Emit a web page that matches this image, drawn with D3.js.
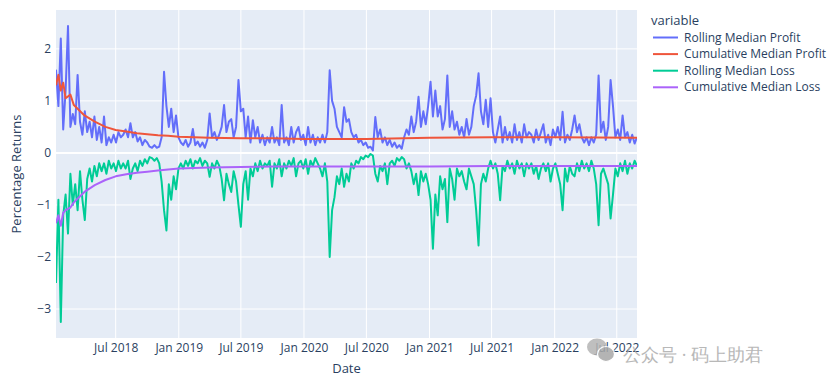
<!DOCTYPE html>
<html>
<head>
<meta charset="utf-8">
<script src="https://cdn.jsdelivr.net/npm/d3@7"></script>
<style>
  body { margin: 0; background: #fff; }
  text { font-family: "Open Sans", verdana, arial, sans-serif; }
</style>
</head>
<body>
<div id="display"></div>
<script>
// weekly samples of the rolling medians, starting 2018-01-08
const rollingStart = "2018-01-08";
const rollingStep = 7;

const rollingProfit = [
  1.6, 0.9, 2.2, 0.45, 1.2, 2.44, 0.5, 0.75, 0.55, 1.5,
  0.6, 0.35, 0.8, 0.4, 0.6, 0.3, 0.7, 0.25, 0.5, 0.2,
  0.7, 0.15, 0.3, 0.2, 0.35, 0.2, 0.4, 0.3, 0.35, 0.45,
  0.3, 0.57, 0.3, 0.4, 0.22, 0.3, 0.15, 0.25, 0.2, 0.12,
  0.1, 0.15, 0.1, 0.12, 0.3, 1.56, 0.9, 0.5, 0.85, 0.4,
  0.72, 0.3, 0.2, 0.15, 0.25, 0.12, 0.2, 0.46, 0.15, 0.22,
  0.12, 0.2, 0.1, 0.25, 0.76, 0.3, 0.4, 0.25, 0.35, 0.5,
  0.92, 0.4, 0.6, 0.65, 0.3, 0.5, 1.4, 0.8, 0.85, 0.3,
  0.7, 0.2, 0.63, 0.3, 0.5, 0.2, 0.35, 0.15, 0.3, 0.2,
  0.5, 0.2, 0.3, 0.15, 0.92, 0.2, 0.3, 0.15, 0.5, 0.2,
  0.4, 0.5, 0.25, 0.35, 0.15, 0.5, 0.2, 0.35, 0.15, 0.3,
  0.2, 0.35, 0.2, 0.4, 1.59, 1.0, 0.85, 0.5, 0.4, 0.3,
  0.88, 0.6, 0.65, 0.4, 0.3, 0.35, 0.2, 0.25, 0.15, 0.2,
  0.1, 0.12, 0.05, 0.69, 0.3, 0.45, 0.2, 0.3, 0.15, 0.25,
  0.12, 0.2, 0.1, 0.15, 0.08, 0.3, 0.45, 0.35, 0.7, 0.4,
  0.6, 1.08, 0.5, 0.8, 0.55, 0.9, 1.37, 0.7, 1.2, 0.7,
  0.9, 0.45, 0.65, 1.49, 0.5, 0.8, 0.45, 0.6, 0.35, 0.5,
  0.3, 0.65, 0.35, 0.5, 0.9, 1.1, 1.53, 0.8, 0.55, 1.02,
  0.5, 1.05, 0.4, 0.2, 0.45, 0.7, 0.2, 0.5, 0.25, 0.4,
  0.2, 0.55, 0.25, 0.4, 0.2, 0.55, 0.3, 0.4, 0.35, 0.2,
  0.45, 0.25, 0.4, 0.55, 0.2, 0.35, 0.15, 0.45, 0.3, 0.5,
  0.25, 0.79, 0.2, 0.35, 0.25, 0.45, 0.72, 0.4, 0.55, 0.3,
  0.2, 0.3, 0.15, 0.3, 0.2, 0.35, 1.49, 0.4, 0.6, 0.25,
  0.5, 1.4, 0.9, 0.3, 0.45, 0.25, 0.72, 0.3, 0.4, 0.2,
  0.35, 0.18, 0.3
];

const rollingLoss = [
  -2.5, -0.9, -3.25, -1.2, -0.8, -1.55, -0.4, -1.0, -0.6, -1.1,
  -0.35, -0.9, -1.29, -0.5, -0.3, -0.55, -0.25, -0.45, -0.2, -0.35,
  -0.2, -0.4, -0.15, -0.3, -0.2, -0.35, -0.15, -0.3, -0.2, -0.3,
  -0.15, -0.5, -0.3, -0.2, -0.35, -0.15, -0.25, -0.12, -0.2, -0.08,
  -0.1, -0.15, -0.1, -0.2, -0.55, -1.1, -1.49, -0.6, -0.9, -0.45,
  -0.7, -0.3, -0.2, -0.3, -0.15, -0.25, -0.12, -0.3, -0.15, -0.2,
  -0.1, -0.25, -0.15, -0.2, -0.46, -0.2, -0.3, -0.15, -0.25, -0.5,
  -0.91, -0.4, -0.6, -0.75, -0.35, -0.55, -1.0, -1.42, -0.6, -0.35,
  -0.9, -0.3, -0.45, -0.2, -0.35, -0.15, -0.3, -0.2, -0.25, -0.15,
  -0.65, -0.2, -0.3, -0.12, -0.45, -0.2, -0.3, -0.15, -0.25, -0.1,
  -0.45, -0.2, -0.15, -0.3, -0.12, -0.4, -0.15, -0.25, -0.1, -0.2,
  -0.3, -0.45, -0.2, -0.55, -2.0, -1.1, -0.85, -0.45, -0.6, -0.3,
  -0.65, -0.4, -0.55, -0.2, -0.3, -0.15, -0.2, -0.08, -0.12, -0.05,
  -0.08, -0.02, -0.05, -0.4, -0.55, -0.25, -0.35, -0.2, -0.6, -0.2,
  -0.15, -0.25, -0.1, -0.15, -0.08, -0.12, -0.3, -0.2, -0.35, -0.6,
  -0.4, -0.81, -0.35, -0.55, -0.4, -0.6, -0.9, -1.84, -0.8, -1.2,
  -0.45, -0.7, -0.5, -1.33, -0.3, -0.5, -0.9, -0.3, -0.45, -0.35,
  -0.55, -0.7, -0.3, -0.45, -0.6, -1.1, -1.78, -0.6, -0.4, -0.55,
  -0.3, -0.15, -0.3, -0.2, -0.4, -0.91, -0.25, -0.35, -0.15, -0.3,
  -0.2, -0.4, -0.15, -0.3, -0.2, -0.45, -0.2, -0.3, -0.2, -0.4,
  -0.25, -0.5, -0.3, -0.2, -0.35, -0.2, -0.55, -0.3, -0.2, -0.4,
  -0.6, -1.1, -0.3, -0.55, -0.25, -0.4, -0.45, -0.2, -0.35, -0.15,
  -0.3, -0.2, -0.35, -0.15, -0.3, -0.6, -1.39, -0.4, -0.3, -0.45,
  -0.6, -1.26, -0.8, -0.3, -0.45, -0.2, -0.35, -0.15, -0.4, -0.2,
  -0.3, -0.15, -0.25
];

// cumulative medians, read at irregular dates
const cumDates = [
  "2018-01-08", "2018-01-15", "2018-01-22", "2018-01-29", "2018-02-05",
  "2018-02-19", "2018-03-01", "2018-04-01", "2018-05-01", "2018-06-01",
  "2018-07-01", "2018-08-01", "2018-09-01", "2018-10-01", "2018-11-01",
  "2018-12-01", "2019-01-01", "2019-04-01", "2019-07-01", "2019-10-01",
  "2020-01-01", "2020-07-01", "2021-01-01", "2021-07-01", "2022-01-01",
  "2022-08-29"
];
const cumProfit = [
  1.3, 1.5, 1.2, 1.35, 1.05,
  1.12, 0.92, 0.72, 0.6, 0.5,
  0.44, 0.41, 0.38, 0.36, 0.34,
  0.33, 0.31, 0.29, 0.28, 0.28,
  0.27, 0.27, 0.29, 0.3, 0.3,
  0.29
];
const cumLoss = [
  -1.35, -1.2, -1.4, -1.15, -1.1,
  -1.05, -0.95, -0.75, -0.62, -0.52,
  -0.45, -0.41, -0.38, -0.36, -0.34,
  -0.32, -0.3, -0.28, -0.27, -0.26,
  -0.26, -0.26, -0.26, -0.25, -0.25,
  -0.25
];

const seriesNames = ["Rolling Median Profit", "Cumulative Median Profit", "Rolling Median Loss", "Cumulative Median Loss"];
const seriesColors = ["#636efa", "#EF553B", "#00cc96", "#ab63fa"];
const xTickLabels = ["Jul 2018", "Jan 2019", "Jul 2019", "Jan 2020", "Jul 2020", "Jan 2021", "Jul 2021", "Jan 2022", "Jul 2022"];
const yTicks = [-3, -2, -1, 0, 1, 2];

const width = 828, height = 385;
const margin = {left: 56, right: 191, top: 10, bottom: 47};
const plotW = width - margin.left - margin.right;
const plotH = height - margin.top - margin.bottom;

const parse = d3.utcParse("%Y-%m-%d");
const t0 = parse(rollingStart);
const rollDates = rollingProfit.map((_, i) => d3.utcDay.offset(t0, i * rollingStep));
const cDates = cumDates.map(parse);

const series = [
  rollingProfit.map((v, i) => ({date: rollDates[i], value: v})),
  cumProfit.map((v, i) => ({date: cDates[i], value: v})),
  rollingLoss.map((v, i) => ({date: rollDates[i], value: v})),
  cumLoss.map((v, i) => ({date: cDates[i], value: v}))
];

const allPts = series.flat();
const x = d3.scaleUtc()
  .domain(d3.extent(allPts, d => d.date))
  .range([0, plotW]);
const yExt = d3.extent(allPts, d => d.value);
const pad = (yExt[1] - yExt[0]) * 0.054;
const y = d3.scaleLinear()
  .domain([yExt[0] - pad, yExt[1] + pad])
  .range([plotH, 0]);

const svg = d3.select('#display')
  .append('svg')
  .attr('width', width)
  .attr('height', height);

const g = svg.append('g')
  .attr('transform', `translate(${margin.left},${margin.top})`);

g.append('rect')
  .attr('width', plotW)
  .attr('height', plotH)
  .attr('fill', '#E5ECF6');

// grid
const xTickDates = xTickLabels.map(s => d3.utcParse("%b %Y")(s));
g.append('g')
  .selectAll('line')
  .data(xTickDates)
  .join('line')
  .attr('x1', d => x(d)).attr('x2', d => x(d))
  .attr('y1', 0).attr('y2', plotH)
  .attr('stroke', 'white').attr('stroke-width', 1);

g.append('g')
  .selectAll('line')
  .data(yTicks)
  .join('line')
  .attr('x1', 0).attr('x2', plotW)
  .attr('y1', d => y(d)).attr('y2', d => y(d))
  .attr('stroke', 'white')
  .attr('stroke-width', d => d === 0 ? 2 : 1);

// axes
const xAxis = g.append('g')
  .attr('transform', `translate(0,${plotH})`)
  .call(d3.axisBottom(x).tickValues(xTickDates).tickFormat(d3.utcFormat("%b %Y")).tickSize(0).tickPadding(5));
const yAxis = g.append('g')
  .call(d3.axisLeft(y).tickValues(yTicks).tickFormat(d => d < 0 ? "\u2212" + Math.abs(d) : d).tickSize(0).tickPadding(5));
[xAxis, yAxis].forEach(a => {
  a.select('.domain').remove();
  a.selectAll('text')
    .attr('fill', '#2a3f5f')
    .attr('font-size', '12px')
    .attr('font-family', '"Open Sans", verdana, arial, sans-serif');
});

// lines
const line = d3.line()
  .x(d => x(d.date))
  .y(d => y(d.value));

const clip = svg.append('clipPath').attr('id', 'clip')
  .append('rect').attr('width', plotW).attr('height', plotH);

g.append('g')
  .attr('clip-path', 'url(#clip)')
  .selectAll('path')
  .data(series)
  .join('path')
  .attr('d', line)
  .attr('fill', 'none')
  .attr('stroke', (d, i) => seriesColors[i])
  .attr('stroke-width', 2)
  .attr('stroke-linejoin', 'round');

// axis titles
svg.append('text')
  .attr('x', margin.left + plotW / 2)
  .attr('y', 373)
  .attr('text-anchor', 'middle')
  .attr('fill', '#2a3f5f')
  .attr('font-size', '13px')
  .text('Date');

svg.append('text')
  .attr('transform', `translate(21,${margin.top + plotH / 2}) rotate(-90)`)
  .attr('text-anchor', 'middle')
  .attr('fill', '#2a3f5f')
  .attr('font-size', '13px')
  .text('Percentage Returns');

// legend
const legend = svg.append('g').attr('transform', 'translate(651,0)');
legend.append('text')
  .attr('x', 0).attr('y', 25)
  .attr('fill', '#2a3f5f')
  .attr('font-size', '13px')
  .text('variable');

const items = legend.selectAll('g.item')
  .data(seriesNames)
  .join('g')
  .attr('class', 'item')
  .attr('transform', (d, i) => `translate(0,${37.5 + i * 16.6})`);
items.append('line')
  .attr('x1', 2).attr('x2', 27)
  .attr('stroke', (d, i) => seriesColors[i])
  .attr('stroke-width', 2);
items.append('text')
  .attr('x', 33).attr('y', 4)
  .attr('fill', '#2a3f5f')
  .attr('font-size', '12px')
  .text(d => d);

// watermark (overlaps the last tick label, as in the source image)
const wm = svg.append('g').attr('opacity', 0.85);
wm.append('ellipse').attr('cx', 597).attr('cy', 347).attr('rx', 10).attr('ry', 8.5).attr('fill', '#b4b4b4');
wm.append('ellipse').attr('cx', 606).attr('cy', 354).attr('rx', 8.5).attr('ry', 7.5).attr('fill', '#a8a8a8').attr('stroke', 'white').attr('stroke-width', 1.2);
wm.append('text')
  .attr('x', 623).attr('y', 361)
  .attr('fill', '#acacac')
  .attr('font-size', '18px')
  .attr('font-family', '"Noto Sans CJK SC", sans-serif')
  .text('公众号 · 码上助君');
</script>
</body>
</html>
